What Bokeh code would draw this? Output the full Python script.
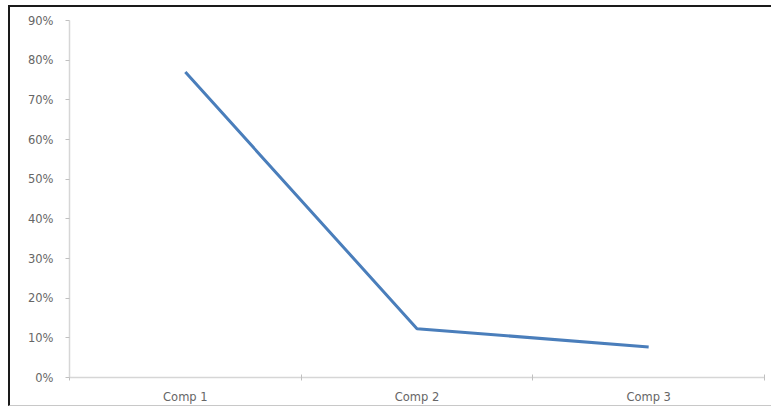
from bokeh.plotting import figure
from bokeh.layouts import column, row
from bokeh.models import Range1d, FixedTicker, NumeralTickFormatter, ColumnDataSource, Spacer
from bokeh.embed import file_html
from bokeh.resources import INLINE

categories = ["Comp 1", "Comp 2", "Comp 3"]
values = [0.77, 0.123, 0.077]
y_ticks = [0.0, 0.1, 0.2, 0.3, 0.4, 0.5, 0.6, 0.7, 0.8, 0.9]

xpos = [i + 0.5 for i in range(len(categories))]
src = ColumnDataSource(dict(x=xpos, y=values))

p = figure(width=763, height=401, output_backend="svg", toolbar_location=None,
           x_range=Range1d(0, len(categories)), y_range=Range1d(0, 0.9),
           min_border_left=59, min_border_right=9, min_border_top=13, min_border_bottom=31)
p.styles = {"border-top": "2px solid #1a1a1a", "border-left": "2px solid #1a1a1a",
            "border-bottom": "1px solid #c8c8c8"}
p.outline_line_color = None
p.xgrid.visible = False
p.ygrid.visible = False

p.line("x", "y", source=src, line_color="#4A7EBB", line_width=3)

font = "DejaVu Sans"
p.xaxis.ticker = FixedTicker(ticks=xpos, minor_ticks=list(range(len(categories) + 1)))
p.xaxis.major_label_overrides = {x: c for x, c in zip(xpos, categories)}
p.xaxis.major_tick_line_color = None
p.xaxis.major_tick_out = 0
p.xaxis.major_tick_in = 0
p.xaxis.minor_tick_in = 3
p.xaxis.minor_tick_out = 3
p.xaxis.minor_tick_line_color = "#c0c0c0"
p.xaxis.axis_line_color = "#d6d6d6"
p.xaxis.axis_line_width = 1.5
p.xaxis.major_label_text_font = font
p.xaxis.major_label_text_font_size = "11.5px"
p.xaxis.major_label_text_color = "#666666"
p.xaxis.major_label_standoff = 9

p.yaxis.ticker = FixedTicker(ticks=y_ticks, minor_ticks=[])
p.yaxis.formatter = NumeralTickFormatter(format="0%")
p.yaxis.major_tick_in = 0
p.yaxis.major_tick_out = 4
p.yaxis.major_tick_line_color = "#c0c0c0"
p.yaxis.axis_line_color = "#d6d6d6"
p.yaxis.axis_line_width = 1.5
p.yaxis.major_label_text_font = font
p.yaxis.major_label_text_font_size = "11.5px"
p.yaxis.major_label_text_color = "#666666"
p.yaxis.major_label_standoff = 12

root = column(Spacer(width=773, height=5), row(Spacer(width=8, height=404), p), spacing=0)
open("out.html", "w").write(file_html(root, INLINE))
